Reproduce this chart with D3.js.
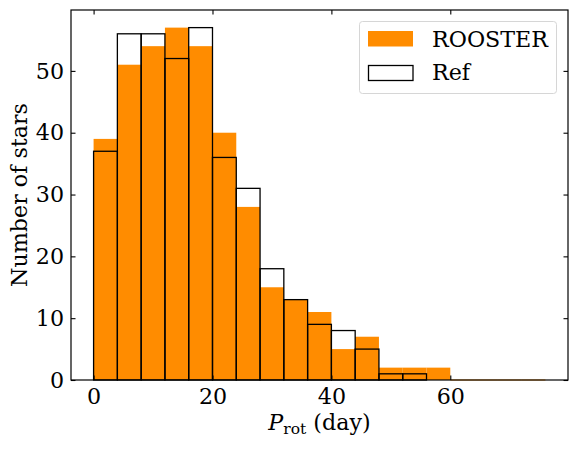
<!DOCTYPE html>
<html><head><meta charset="utf-8">
<script src="https://cdn.jsdelivr.net/npm/d3@7"></script>
<style>body{margin:0;background:#fff}svg{display:block}text{font-family:"DejaVu Serif",serif;fill:#000}</style>
</head><body><svg id="c" width="576" height="449"></svg>
<script>
const binEdges = [0,4,8,12,16,20,24,28,32,36,40,44,48,52,56,60,64,68,72,76];
const rooster = [39,51,54,57,54,40,28,15,13,11,5,7,2,2,2,0,0,0,0];
const refCounts = [37,56,56,52,57,36,31,18,13,9,8,5,1,1,0,0,0,0,0];
const xTicks = [0,20,40,60];
const yTicks = [0,10,20,30,40,50];
const legendLabels = ["ROOSTER","Ref"];

const svg = d3.select("#c");
const L=71, R=568, T=10, B=380;
const x = d3.scaleLinear().domain([-3.8,79.8]).range([L,R]);
const y = d3.scaleLinear().domain([0,59.85]).range([B,T]);
const orange = "#ff8c00";

const bins = rooster.map((v,i)=>({x0:binEdges[i],x1:binEdges[i+1],r:v,f:refCounts[i]}));

svg.append("g").selectAll("rect").data(bins.filter(d=>d.r>0)).join("rect")
  .attr("x",d=>x(d.x0)).attr("width",d=>x(d.x1)-x(d.x0))
  .attr("y",d=>y(d.r)).attr("height",d=>y(0)-y(d.r))
  .attr("fill",orange);
svg.append("g").selectAll("line").data(bins.filter(d=>d.r===0)).join("line")
  .attr("x1",d=>x(d.x0)).attr("x2",d=>x(d.x1)).attr("y1",y(0)).attr("y2",y(0))
  .attr("stroke",orange).attr("stroke-width",1);

svg.append("g").selectAll("rect").data(bins).join("rect")
  .attr("x",d=>x(d.x0)).attr("width",d=>x(d.x1)-x(d.x0))
  .attr("y",d=>y(d.f)).attr("height",d=>y(0)-y(d.f))
  .attr("fill","none").attr("stroke","#000").attr("stroke-width",1.3);

const fs = 22.2;
const xa = d3.axisBottom(x).tickValues(xTicks).tickSize(-4.5).tickPadding(8);
const xt = d3.axisTop(x).tickValues(xTicks).tickSize(-4.5).tickFormat("");
const ya = d3.axisLeft(y).tickValues(yTicks).tickSize(-4.5).tickPadding(7);
const yr = d3.axisRight(y).tickValues(yTicks).tickSize(-4.5).tickFormat("");
function style(g){g.selectAll(".domain").remove();g.selectAll("line").attr("stroke","#000").attr("stroke-width",1.1);
  g.selectAll("text").attr("font-size",fs).attr("font-family","DejaVu Serif");}
svg.append("g").attr("transform",`translate(0,${B})`).call(xa).call(style);
svg.append("g").attr("transform",`translate(0,${T})`).call(xt).call(style);
svg.append("g").attr("transform",`translate(${L},0)`).call(ya).call(style);
svg.append("g").attr("transform",`translate(${R},0)`).call(yr).call(style);
svg.append("rect").attr("x",L).attr("y",T).attr("width",R-L).attr("height",B-T)
  .attr("fill","none").attr("stroke","#000").attr("stroke-width",1.2);

const xl = svg.append("text").attr("x",(L+R)/2).attr("y",430).attr("text-anchor","middle").attr("font-size",fs);
xl.append("tspan").attr("font-style","italic").text("P");
xl.append("tspan").attr("font-size",15.5).attr("dy",3.5).text("rot");
xl.append("tspan").attr("dy",-3.5).text(" (day)");
svg.append("text").attr("transform",`translate(27,${(T+B)/2}) rotate(-90)`).attr("text-anchor","middle")
  .attr("font-size",fs).text("Number of stars");

const lg = svg.append("g");
lg.append("rect").attr("x",359.5).attr("y",21.5).attr("width",197).attr("height",72).attr("rx",3)
  .attr("fill","#fff").attr("fill-opacity",0.8).attr("stroke","#d6d6d6").attr("stroke-width",1);
lg.append("rect").attr("x",368).attr("y",31).attr("width",45).attr("height",15.5).attr("fill",orange);
lg.append("rect").attr("x",368.5).attr("y",65.5).attr("width",44.5).attr("height",15).attr("fill","none").attr("stroke","#000").attr("stroke-width",1.3);
lg.selectAll("text.l").data(legendLabels).join("text").attr("class","l")
  .attr("x",432).attr("y",(d,i)=>46.5+i*33.5).attr("font-size",fs).text(d=>d);
</script></body></html>
